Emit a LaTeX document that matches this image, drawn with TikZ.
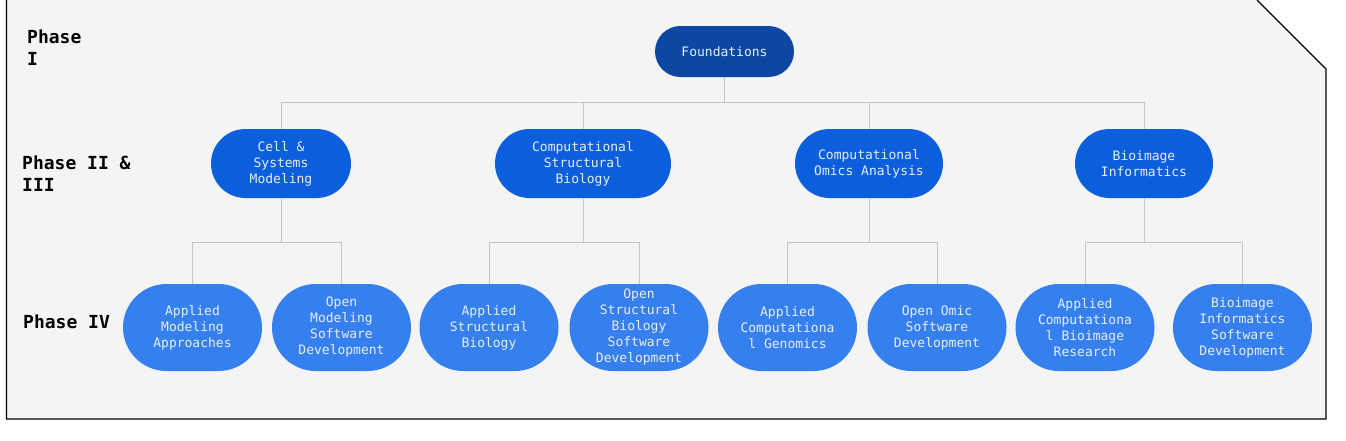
\documentclass[tikz,border=0pt]{standalone}
\usepackage{fontspec}
\setmonofont{DejaVu Sans Mono}
\definecolor{bg}{HTML}{F4F4F4}
\definecolor{cone}{HTML}{0B47A3}
\definecolor{ctwo}{HTML}{0B5EDC}
\definecolor{cthree}{HTML}{3580EE}
\definecolor{txt}{HTML}{E8EDFF}
\definecolor{conn}{HTML}{C4C4C4}
\begin{document}
\begin{tikzpicture}[x=1pt,y=-1pt,
  nodebase/.style={text=txt, font=\ttfamily\fontsize{13}{16}\selectfont, align=center, inner sep=0},
  lvone/.style={nodebase, fill=cone, minimum height=51, rounded corners=25.5},
  lvtwo/.style={nodebase, fill=ctwo, minimum height=69, rounded corners=34.5},
  lvthree/.style={nodebase, fill=cthree, minimum height=87, minimum width=139, rounded corners=43.5},
  phase/.style={font=\ttfamily\bfseries\fontsize{18}{22}\selectfont, align=left, anchor=north west, inner sep=0},
  connline/.style={draw=conn, line width=0.9},
  frame/.style={draw=black, line width=1.2}
]
\useasboundingbox (0,0) rectangle (1346,440);
\fill[bg] (6.5,0) -- (6.5,419) -- (1326,419) -- (1326,69) -- (1257,0) -- cycle;
\draw[frame] (6.5,0) -- (6.5,419) -- (1326,419) -- (1326,69) -- (1257,0);

% phase labels
\node[phase] (p1) at (27,30) {Phase\\I};
\node[phase] (p2) at (22,156) {Phase II \&\\III};
\node[phase] (p4) at (23,315) {Phase IV};

% nodes
\node[lvone, minimum width=139] (f) at (724.5,51.5) {Foundations};

\node[lvtwo, minimum width=140] (cell) at (281,163.5) {Cell \&\\Systems\\Modeling};
\node[lvtwo, minimum width=176] (csb) at (583,163.5) {Computational\\Structural\\Biology};
\node[lvtwo, minimum width=148] (coa) at (869,163.5) {Computational\\Omics Analysis};
\node[lvtwo, minimum width=138] (bi) at (1144,163.5) {Bioimage\\Informatics};

\node[lvthree] (ama) at (192.5,327.5) {Applied\\Modeling\\Approaches};
\node[lvthree] (omsd) at (341.5,327.5) {Open\\Modeling\\Software\\Development};
\node[lvthree] (asb) at (489,327.5) {Applied\\Structural\\Biology};
\node[lvthree] (ossd) at (639,327.5) {Open\\Structural\\Biology\\Software\\Development};
\node[lvthree] (acg) at (787.5,327.5) {Applied\\Computationa\\l Genomics};
\node[lvthree] (oosd) at (937,327.5) {Open Omic\\Software\\Development};
\node[lvthree] (acbr) at (1085,327.5) {Applied\\Computationa\\l Bioimage\\Research};
\node[lvthree] (bisd) at (1242.5,327.5) {Bioimage\\Informatics\\Software\\Development};

% junctions
\coordinate (j0) at (724.5,102);
\coordinate (j1) at (281,242);
\coordinate (j2) at (583,242);
\coordinate (j3) at (869,242);
\coordinate (j4) at (1144,242);

\begin{scope}[on background layer/.try]
\end{scope}
\draw[connline] (f.south) -- (j0);
\draw[connline] (j0) -| (cell.north);
\draw[connline] (j0) -| (csb.north);
\draw[connline] (j0) -| (coa.north);
\draw[connline] (j0) -| (bi.north);

\draw[connline] (cell.south) -- (j1);
\draw[connline] (j1) -| (ama.north);
\draw[connline] (j1) -| (omsd.north);
\draw[connline] (csb.south) -- (j2);
\draw[connline] (j2) -| (asb.north);
\draw[connline] (j2) -| (ossd.north);
\draw[connline] (coa.south) -- (j3);
\draw[connline] (j3) -| (acg.north);
\draw[connline] (j3) -| (oosd.north);
\draw[connline] (bi.south) -- (j4);
\draw[connline] (j4) -| (acbr.north);
\draw[connline] (j4) -| (bisd.north);
\end{tikzpicture}
\end{document}
